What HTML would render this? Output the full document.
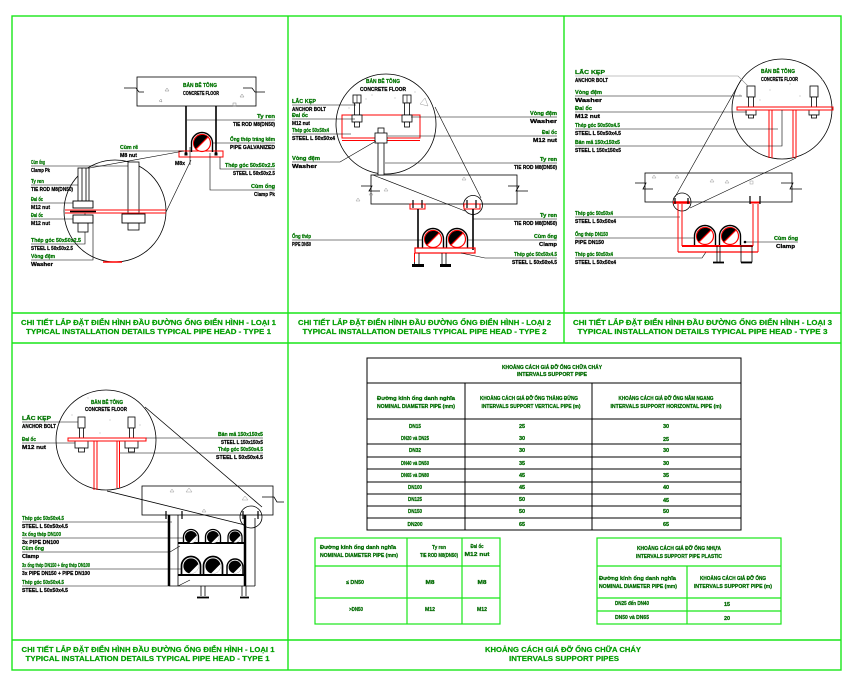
<!DOCTYPE html>
<html><head><meta charset="utf-8"><style>
html,body{margin:0;padding:0;background:#fff;}
svg{display:block}
text{font-family:"Liberation Sans","DejaVu Sans",sans-serif;font-weight:bold}
.g{fill:#007400;stroke:#007400;stroke-width:0.25px;font-size:5.5px}
.k{fill:#000;stroke:#000;stroke-width:0.25px;font-size:5.5px}
.t{fill:#009e00;stroke:#009e00;stroke-width:0.2px;font-size:7.5px}
.d{fill:#006a00;stroke:#006a00;stroke-width:0.25px;font-size:5.5px}
</style></head><body>
<svg width="852" height="677" viewBox="0 0 852 677" xmlns="http://www.w3.org/2000/svg">
<defs>
<g id="pp">
 <path d="M-10.5 9 V0 A10.5 10.5 0 0 1 10.5 0 V9" fill="none" stroke="#000" stroke-width="1.4"/>
 <circle r="8.5" fill="#fff" stroke="#f00" stroke-width="1.2"/>
 <path d="M-6 6 A8.5 8.5 0 0 1 6 -6 Z" fill="#000"/>
 <line x1="-6.5" y1="6.5" x2="6.5" y2="-6.5" stroke="#f00" stroke-width="1.2"/>
</g>
<g id="pk">
 <path d="M-10 9 V0 A10 10 0 0 1 10 0 V9" fill="none" stroke="#000" stroke-width="1.8"/>
 <circle r="8" fill="#000"/>
 <path d="M-2 7.7 A8 8 0 0 0 7.7 -2 Z" fill="#fff"/>
</g>
</defs>

<!-- FRAME -->
<g stroke="#19e619" stroke-width="1.4" fill="none">
<rect x="12" y="16" width="829" height="654"/>
<line x1="288" y1="16" x2="288" y2="670"/>
<line x1="564" y1="16" x2="564" y2="343"/>
<line x1="12" y1="313" x2="841" y2="313"/>
<line x1="12" y1="343" x2="841" y2="343"/>
<line x1="12" y1="640" x2="841" y2="640"/>
</g>

<!-- TITLES -->
<text class="t" x="148.5" y="325" text-anchor="middle" textLength="255" lengthAdjust="spacingAndGlyphs">CHI TIẾT LẮP ĐẶT ĐIỂN HÌNH ĐẦU ĐƯỜNG ỐNG ĐIỂN HÌNH - LOẠI 1</text>
<text class="t" x="148.5" y="334" text-anchor="middle" textLength="245" lengthAdjust="spacingAndGlyphs">TYPICAL INSTALLATION DETAILS TYPICAL PIPE HEAD - TYPE 1</text>
<text class="t" x="424.5" y="325" text-anchor="middle" textLength="253" lengthAdjust="spacingAndGlyphs">CHI TIẾT LẮP ĐẶT ĐIỂN HÌNH ĐẦU ĐƯỜNG ỐNG ĐIỂN HÌNH - LOẠI 2</text>
<text class="t" x="424.5" y="334" text-anchor="middle" textLength="244" lengthAdjust="spacingAndGlyphs">TYPICAL INSTALLATION DETAILS TYPICAL PIPE HEAD - TYPE 2</text>
<text class="t" x="702.5" y="325" text-anchor="middle" textLength="259" lengthAdjust="spacingAndGlyphs">CHI TIẾT LẮP ĐẶT ĐIỂN HÌNH ĐẦU ĐƯỜNG ỐNG ĐIỂN HÌNH - LOẠI 3</text>
<text class="t" x="702.5" y="334" text-anchor="middle" textLength="250" lengthAdjust="spacingAndGlyphs">TYPICAL INSTALLATION DETAILS TYPICAL PIPE HEAD - TYPE 3</text>
<text class="t" x="148" y="652" text-anchor="middle" textLength="253" lengthAdjust="spacingAndGlyphs">CHI TIẾT LẮP ĐẶT ĐIỂN HÌNH ĐẦU ĐƯỜNG ỐNG ĐIỂN HÌNH - LOẠI 1</text>
<text class="t" x="147.5" y="661" text-anchor="middle" textLength="244" lengthAdjust="spacingAndGlyphs">TYPICAL INSTALLATION DETAILS TYPICAL PIPE HEAD - TYPE 1</text>
<text class="t" x="563" y="652" text-anchor="middle" textLength="156" lengthAdjust="spacingAndGlyphs">KHOẢNG CÁCH GIÁ ĐỠ ỐNG CHỮA CHÁY</text>
<text class="t" x="564" y="661" text-anchor="middle" textLength="110" lengthAdjust="spacingAndGlyphs">INTERVALS SUPPORT PIPES</text>

<!-- ================= PANEL 1 ================= -->
<g fill="none" stroke="#000" stroke-width="0.8">
 <rect x="137" y="77" width="119" height="29"/>
 <path d="M124 88 H136 L139 92 H144"/>
 <path d="M243 88 H252 L255 92 H265"/>
 <circle cx="115" cy="211" r="51"/>
</g>
<g fill="none" stroke="#888" stroke-width="0.5">
 <path d="M165 91 l2 -3 l2 3 z"/><path d="M159 101 l2 -2 l1 3 z"/><path d="M240 97 l2 -3 l2 3 z"/><rect x="233" y="103" width="3" height="3"/>
</g>
<text class="g" x="183" y="87" textLength="34" lengthAdjust="spacingAndGlyphs">BẢN BÊ TÔNG</text>
<text class="k" x="183" y="95" textLength="36" lengthAdjust="spacingAndGlyphs">CONCRETE FLOOR</text>
<g stroke="#000" stroke-width="1.6">
 <line x1="186" y1="106" x2="186" y2="155"/>
 <line x1="216" y1="106" x2="216" y2="155"/>
</g>
<rect x="179" y="151" width="44" height="6" fill="none" stroke="#f00" stroke-width="1"/>
<use href="#pp" x="202" y="143"/>
<rect x="184.5" y="152.5" width="3" height="3" fill="#000"/>
<rect x="214.5" y="152.5" width="3" height="3" fill="#000"/>
<text class="k" x="175" y="165" textLength="10" lengthAdjust="spacingAndGlyphs">M8x</text>
<g fill="none" stroke="#000" stroke-width="0.6">
 <path d="M31 166 H128"/><path d="M31 185 H82"/><path d="M31 203 H73"/><path d="M31 219 H73"/>
 <path d="M31 244 H85 V213"/><path d="M31 260 H93 V223"/>
 <path d="M187 120 H275"/><path d="M212 143 H275"/><path d="M220 157 V169 H275"/><path d="M210 153 V190 H275"/>
 <path d="M120 151 H183"/>
 <path d="M184 151 L84 169"/><path d="M191 160 L166 212"/>
 <path d="M190 147 V165"/>
</g>
<!-- detail inside circle 1 -->
<g fill="#fff" stroke="#000" stroke-width="0.8">
 <rect x="78" y="168" width="11" height="33"/>
 <line x1="82" y1="168" x2="82" y2="201"/><line x1="86" y1="168" x2="86" y2="201"/>
 <rect x="78" y="223" width="10" height="9"/>
 <rect x="128" y="162" width="11" height="52"/>
 <rect x="128" y="223" width="11" height="7"/>
</g>
<g stroke="#f00" stroke-width="0.9"><line x1="65" y1="210" x2="166" y2="210"/><line x1="65" y1="213" x2="166" y2="213"/></g>
<g fill="#fff" stroke="#000" stroke-width="0.9">
 <rect x="73" y="201" width="20" height="7"/>
 <rect x="73" y="215" width="20" height="8"/>
 <rect x="122" y="214" width="23" height="9"/>
</g>
<line x1="70" y1="211.5" x2="96" y2="211.5" stroke="#000" stroke-width="1.6"/>
<line x1="103" y1="262" x2="122" y2="262" stroke="#f00" stroke-width="1.5"/>
<!-- labels p1 -->
<text class="g" x="31" y="164" textLength="14" lengthAdjust="spacingAndGlyphs">Cùm ống</text>
<text class="k" x="31" y="172" textLength="19" lengthAdjust="spacingAndGlyphs">Clamp Pk</text>
<text class="g" x="31" y="183" textLength="13" lengthAdjust="spacingAndGlyphs">Ty ren</text>
<text class="k" x="31" y="191" textLength="42" lengthAdjust="spacingAndGlyphs">TIE ROD M8(DN50)</text>
<text class="g" x="31" y="201" textLength="12" lengthAdjust="spacingAndGlyphs">Đai ốc</text>
<text class="k" x="31" y="209" textLength="19" lengthAdjust="spacingAndGlyphs">M12 nut</text>
<text class="g" x="31" y="217" textLength="12" lengthAdjust="spacingAndGlyphs">Đai ốc</text>
<text class="k" x="31" y="225" textLength="19" lengthAdjust="spacingAndGlyphs">M12 nut</text>
<text class="g" x="31" y="242" textLength="50" lengthAdjust="spacingAndGlyphs">Thép góc 50x50x2.5</text>
<text class="k" x="31" y="250" textLength="42" lengthAdjust="spacingAndGlyphs">STEEL L 50x50x2.5</text>
<text class="g" x="31" y="258" textLength="24" lengthAdjust="spacingAndGlyphs">Vòng đệm</text>
<text class="k" x="31" y="266" textLength="22" lengthAdjust="spacingAndGlyphs">Washer</text>
<text class="g" x="275" y="118" text-anchor="end" textLength="18" lengthAdjust="spacingAndGlyphs">Ty ren</text>
<text class="k" x="275" y="126" text-anchor="end" textLength="42" lengthAdjust="spacingAndGlyphs">TIE ROD M8(DN50)</text>
<text class="g" x="275" y="141" text-anchor="end" textLength="45" lengthAdjust="spacingAndGlyphs">Ống thép tráng kẽm</text>
<text class="k" x="275" y="149" text-anchor="end" textLength="45" lengthAdjust="spacingAndGlyphs">PIPE GALVANIZED</text>
<text class="g" x="275" y="167" text-anchor="end" textLength="50" lengthAdjust="spacingAndGlyphs">Thép góc 50x50x2.5</text>
<text class="k" x="275" y="175" text-anchor="end" textLength="42" lengthAdjust="spacingAndGlyphs">STEEL L 50x50x2.5</text>
<text class="g" x="275" y="188" text-anchor="end" textLength="24" lengthAdjust="spacingAndGlyphs">Cùm ống</text>
<text class="k" x="275" y="196" text-anchor="end" textLength="21" lengthAdjust="spacingAndGlyphs">Clamp Pk</text>
<text class="g" x="120" y="149" textLength="18" lengthAdjust="spacingAndGlyphs">Cùm rẽ</text>
<text class="k" x="120" y="157" textLength="17" lengthAdjust="spacingAndGlyphs">M8 nut</text>

<!-- ================= PANEL 2 ================= -->
<g fill="none" stroke="#000" stroke-width="0.8">
 <circle cx="386" cy="124" r="50"/>
 <rect x="371" y="175" width="146" height="29"/>
 <path d="M361 186 H372 L369 191 H380"/>
 <path d="M508 186 H519 L516 191 H528"/>
 <circle cx="473" cy="205" r="9.5"/>
</g>
<g fill="none" stroke="#999" stroke-width="0.5">
 <path d="M420 104 l5 -6 l3 8 z"/><path d="M384 191 l2 -3 l2 3 z"/><path d="M369 195 l2 -3 l2 3 z"/><path d="M462 180 l2 -3 l2 3 z"/><path d="M356 201 l2 -3 l2 3 z"/>
</g>
<g fill="#bbb"><circle cx="366" cy="99" r=".6"/><circle cx="395" cy="98" r=".6"/><circle cx="349" cy="108" r=".6"/><circle cx="372" cy="95" r=".6"/><circle cx="415" cy="92" r=".6"/></g>
<text class="g" x="383" y="83" text-anchor="middle" textLength="34" lengthAdjust="spacingAndGlyphs">BẢN BÊ TÔNG</text>
<text class="k" x="383" y="91" text-anchor="middle" textLength="46" lengthAdjust="spacingAndGlyphs">CONCRETE FLOOR</text>
<rect x="342" y="115" width="78" height="23" fill="none" stroke="#f00" stroke-width="1"/>
<line x1="342" y1="140.5" x2="420" y2="140.5" stroke="#f00" stroke-width="1"/>
<g fill="#fff" stroke="#000" stroke-width="0.8">
 <rect x="353" y="95" width="8" height="8"/><rect x="354.5" y="103" width="5" height="12"/><rect x="352" y="115" width="10" height="7"/><rect x="354.5" y="122" width="5" height="5"/>
 <rect x="403" y="95" width="8" height="8"/><rect x="404.5" y="103" width="5" height="12"/><rect x="402" y="115" width="10" height="7"/><rect x="404.5" y="122" width="5" height="5"/>
 <rect x="378" y="128" width="6" height="47"/>
 <rect x="375" y="133" width="12" height="10"/>
</g>
<g stroke="#000" stroke-width="0.6"><line x1="357" y1="95" x2="357" y2="103"/><line x1="407" y1="95" x2="407" y2="103"/></g>
<rect x="410" y="204" width="15" height="5" fill="none" stroke="#f00" stroke-width="1"/>
<rect x="464" y="204" width="16" height="5" fill="none" stroke="#f00" stroke-width="1"/>
<g stroke="#000" stroke-width="1.2">
 <line x1="413" y1="200" x2="413" y2="208"/><line x1="422" y1="200" x2="422" y2="208"/>
 <line x1="467" y1="200" x2="467" y2="208"/><line x1="476" y1="200" x2="476" y2="208"/>
</g>
<g stroke="#000" stroke-width="1.6"><line x1="418" y1="209" x2="418" y2="248"/><line x1="473" y1="209" x2="473" y2="250"/></g>
<use href="#pp" x="433" y="239"/>
<use href="#pp" x="457" y="239"/>
<rect x="415" y="248" width="60" height="5" fill="none" stroke="#f00" stroke-width="1.2"/>
<g stroke="#000" stroke-width="0.8">
 <line x1="414.5" y1="253" x2="414.5" y2="265"/><line x1="419" y1="253" x2="419" y2="265"/>
 <line x1="442" y1="253" x2="442" y2="265"/><line x1="446" y1="253" x2="446" y2="265"/>
</g>
<line x1="414.5" y1="253" x2="414.5" y2="262" stroke="#f00" stroke-width="1"/>
<rect x="412" y="264" width="12" height="3" fill="#000"/>
<rect x="440" y="264" width="11" height="3" fill="#000"/>
<g fill="none" stroke="#000" stroke-width="0.6">
 <path d="M292 105 H356"/><path d="M292 119 H355"/><path d="M292 134 H351"/>
 <path d="M292 162 H340 L376 141"/><path d="M292 240 H423"/>
 <path d="M411 117 H557"/><path d="M388 136 H557"/><path d="M385 163 H557"/>
 <path d="M473 219 H557"/><path d="M467 240 H557"/><path d="M461 253 L485 258 H557"/>
 <path d="M373 175 L465 211"/><path d="M435 107 L481 198"/>
</g>
<text class="g" x="292" y="103" textLength="24" lengthAdjust="spacingAndGlyphs">LẮC KẸP</text>
<text class="k" x="292" y="111" textLength="34" lengthAdjust="spacingAndGlyphs">ANCHOR BOLT</text>
<text class="g" x="292" y="117" textLength="16" lengthAdjust="spacingAndGlyphs">Đai ốc</text>
<text class="k" x="292" y="125" textLength="18" lengthAdjust="spacingAndGlyphs">M12 nut</text>
<text class="g" x="292" y="132" textLength="37" lengthAdjust="spacingAndGlyphs">Thép góc 50x50x4</text>
<text class="k" x="292" y="140" textLength="43" lengthAdjust="spacingAndGlyphs">STEEL L 50x50x4</text>
<text class="g" x="292" y="160" textLength="28" lengthAdjust="spacingAndGlyphs">Vòng đệm</text>
<text class="k" x="292" y="168" textLength="25" lengthAdjust="spacingAndGlyphs">Washer</text>
<text class="g" x="292" y="238" textLength="19" lengthAdjust="spacingAndGlyphs">Ống thép</text>
<text class="k" x="292" y="246" textLength="19" lengthAdjust="spacingAndGlyphs">PIPE DN50</text>
<text class="g" x="557" y="115" text-anchor="end" textLength="27" lengthAdjust="spacingAndGlyphs">Vòng đệm</text>
<text class="k" x="557" y="123" text-anchor="end" textLength="27" lengthAdjust="spacingAndGlyphs">Washer</text>
<text class="g" x="557" y="134" text-anchor="end" textLength="15" lengthAdjust="spacingAndGlyphs">Đai ốc</text>
<text class="k" x="557" y="142" text-anchor="end" textLength="24" lengthAdjust="spacingAndGlyphs">M12 nut</text>
<text class="g" x="557" y="161" text-anchor="end" textLength="17" lengthAdjust="spacingAndGlyphs">Ty ren</text>
<text class="k" x="557" y="169" text-anchor="end" textLength="43" lengthAdjust="spacingAndGlyphs">TIE ROD M8(DN50)</text>
<text class="g" x="557" y="217" text-anchor="end" textLength="17" lengthAdjust="spacingAndGlyphs">Ty ren</text>
<text class="k" x="557" y="225" text-anchor="end" textLength="43" lengthAdjust="spacingAndGlyphs">TIE ROD M8(DN50)</text>
<text class="g" x="557" y="238" text-anchor="end" textLength="23" lengthAdjust="spacingAndGlyphs">Cùm ống</text>
<text class="k" x="557" y="246" text-anchor="end" textLength="18" lengthAdjust="spacingAndGlyphs">Clamp</text>
<text class="g" x="557" y="256" text-anchor="end" textLength="43" lengthAdjust="spacingAndGlyphs">Thép góc 50x50x4.5</text>
<text class="k" x="557" y="264" text-anchor="end" textLength="45" lengthAdjust="spacingAndGlyphs">STEEL L 50x50x4.5</text>

<!-- ================= PANEL 3 ================= -->
<g fill="none" stroke="#000" stroke-width="0.8">
 <circle cx="782" cy="109" r="50"/>
 <rect x="645" y="173" width="147" height="29"/>
 <path d="M635 183 H646 L643 189 H653"/>
 <path d="M781 183 H793 L790 189 H802"/>
 <circle cx="682" cy="202" r="9"/>
</g>
<g fill="none" stroke="#999" stroke-width="0.5">
 <path d="M652 178 l2 -3 l2 3 z"/><path d="M675 178 l2 -3 l2 3 z"/><path d="M710 182 l2 -3 l2 3 z"/><path d="M725 183 l2 -3 l2 3 z"/><rect x="750" y="181" width="3" height="3"/>
</g>
<g fill="#bbb"><circle cx="770" cy="90" r=".6"/><circle cx="790" cy="84" r=".6"/><circle cx="800" cy="96" r=".6"/><circle cx="760" cy="100" r=".6"/><circle cx="822" cy="80" r=".6"/><circle cx="740" cy="95" r=".6"/></g>
<text class="g" x="761" y="73" textLength="34" lengthAdjust="spacingAndGlyphs">BẢN BÊ TÔNG</text>
<text class="k" x="761" y="81" textLength="37" lengthAdjust="spacingAndGlyphs">CONCRETE FLOOR</text>
<g fill="#fff" stroke="#000" stroke-width="0.8">
 <rect x="747" y="86" width="8" height="11"/><rect x="748.5" y="97" width="5" height="10"/><rect x="746" y="110" width="10" height="5"/><rect x="748.5" y="115" width="5" height="3"/>
 <rect x="810" y="86" width="8" height="11"/><rect x="811.5" y="97" width="5" height="10"/><rect x="809" y="110" width="10" height="5"/><rect x="811.5" y="115" width="5" height="3"/>
</g>
<rect x="737" y="107" width="96" height="3" fill="none" stroke="#f00" stroke-width="1"/>
<g stroke="#f00" stroke-width="1">
 <line x1="769" y1="110" x2="769" y2="158"/><line x1="772" y1="110" x2="772" y2="158"/>
 <line x1="793" y1="110" x2="793" y2="158"/><line x1="796" y1="110" x2="796" y2="158"/>
</g>
<g fill="none" stroke="#000" stroke-width="0.6">
 <path d="M575 96 H742"/><path d="M575 112 H747"/><path d="M575 129 H778"/><path d="M575 146 H782 V110"/>
 <path d="M575 217 H680"/><path d="M575 238 H695"/><path d="M575 258 H702 L706 252"/>
 <path d="M745 242 H798"/>
 <path d="M741 80 L675 197"/><path d="M796 158 L690 208"/>
</g>
<path d="M575 76 H738 L748 86" fill="none" stroke="#888" stroke-width="0.6"/>
<circle cx="745" cy="242" r="1.3" fill="#000"/>
<g stroke="#f00">
 <line x1="673" y1="202.5" x2="690" y2="202.5" stroke-width="2.5"/>
 <line x1="678" y1="204" x2="678" y2="252" stroke-width="1"/>
 <line x1="682" y1="204" x2="682" y2="246" stroke-width="1"/>
 <line x1="750" y1="202.5" x2="760" y2="202.5" stroke-width="2"/>
 <line x1="753" y1="204" x2="753" y2="246" stroke-width="1"/>
 <line x1="758" y1="204" x2="758" y2="252" stroke-width="1"/>
 <line x1="682" y1="246" x2="753" y2="246" stroke-width="2"/>
 <line x1="678" y1="252" x2="758" y2="252" stroke-width="1.2"/>
</g>
<g stroke="#000" stroke-width="1.2">
 <line x1="750" y1="196" x2="750" y2="204"/><line x1="760" y1="196" x2="760" y2="204"/>
 <line x1="675" y1="198" x2="675" y2="204"/><line x1="688" y1="198" x2="688" y2="204"/>
</g>
<use href="#pp" x="705" y="236"/>
<use href="#pp" x="730" y="236"/>
<g stroke="#000" stroke-width="0.8" fill="none">
 <line x1="717" y1="246" x2="717" y2="262"/><line x1="720" y1="246" x2="720" y2="262"/>
 <rect x="741" y="246" width="11" height="16"/>
</g>
<g stroke="#000" stroke-width="1.8"><line x1="713" y1="262.5" x2="724" y2="262.5"/><line x1="741" y1="262.5" x2="752" y2="262.5"/></g>
<text class="g" x="575" y="74" textLength="30" lengthAdjust="spacingAndGlyphs">LẮC KẸP</text>
<text class="k" x="575" y="82" textLength="33" lengthAdjust="spacingAndGlyphs">ANCHOR BOLT</text>
<text class="g" x="575" y="94" textLength="27" lengthAdjust="spacingAndGlyphs">Vòng đệm</text>
<text class="k" x="575" y="102" textLength="27" lengthAdjust="spacingAndGlyphs">Washer</text>
<text class="g" x="575" y="110" textLength="17" lengthAdjust="spacingAndGlyphs">Đai ốc</text>
<text class="k" x="575" y="118" textLength="25" lengthAdjust="spacingAndGlyphs">M12 nut</text>
<text class="g" x="575" y="127" textLength="45" lengthAdjust="spacingAndGlyphs">Thép góc 50x50x4.5</text>
<text class="k" x="575" y="135" textLength="46" lengthAdjust="spacingAndGlyphs">STEEL L 50x50x4.5</text>
<text class="g" x="575" y="144" textLength="45" lengthAdjust="spacingAndGlyphs">Bản mã 150x150x5</text>
<text class="k" x="575" y="152" textLength="46" lengthAdjust="spacingAndGlyphs">STEEL L 150x150x5</text>
<text class="g" x="575" y="215" textLength="38" lengthAdjust="spacingAndGlyphs">Thép góc 50x50x4</text>
<text class="k" x="575" y="223" textLength="41" lengthAdjust="spacingAndGlyphs">STEEL L 50x50x4</text>
<text class="g" x="575" y="236" textLength="33" lengthAdjust="spacingAndGlyphs">Ống thép DN150</text>
<text class="k" x="575" y="244" textLength="29" lengthAdjust="spacingAndGlyphs">PIPE DN150</text>
<text class="g" x="575" y="256" textLength="38" lengthAdjust="spacingAndGlyphs">Thép góc 50x50x4</text>
<text class="k" x="575" y="264" textLength="41" lengthAdjust="spacingAndGlyphs">STEEL L 50x50x4</text>
<text class="g" x="774" y="240" textLength="24" lengthAdjust="spacingAndGlyphs">Cùm ống</text>
<text class="k" x="776" y="248" textLength="19" lengthAdjust="spacingAndGlyphs">Clamp</text>

<!-- ================= PANEL 4 ================= -->
<g fill="none" stroke="#000" stroke-width="0.8">
 <circle cx="106" cy="440" r="50"/>
 <rect x="142" y="486" width="131" height="29"/>
 <path d="M262 497 H274 L277 502 H284"/>
 <circle cx="251" cy="517" r="11"/>
 <path d="M107 491 L245 525"/>
 <path d="M145 407 L262 507"/>
</g>
<g fill="none" stroke="#999" stroke-width="0.5">
 <path d="M170 492 l2 -3 l2 3 z"/><path d="M186 492 l3 -4 l3 4 z"/><path d="M202 512 l2 -3 l2 3 z"/><path d="M242 500 l3 -4 l3 4 z"/>
</g>
<g fill="#bbb"><circle cx="88" cy="398" r=".6"/><circle cx="72" cy="415" r=".6"/><circle cx="110" cy="420" r=".6"/><circle cx="140" cy="425" r=".6"/><circle cx="100" cy="433" r=".6"/></g>
<text class="g" x="107" y="404" text-anchor="middle" textLength="32" lengthAdjust="spacingAndGlyphs">BẢN BÊ TÔNG</text>
<text class="k" x="106" y="411" text-anchor="middle" textLength="42" lengthAdjust="spacingAndGlyphs">CONCRETE FLOOR</text>
<g fill="#fff" stroke="#000" stroke-width="0.8">
 <rect x="78" y="417" width="7" height="11"/><rect x="79.5" y="428" width="4" height="10"/><rect x="75" y="441" width="13" height="7"/><rect x="78.5" y="448" width="6" height="4"/>
 <rect x="128" y="417" width="7" height="11"/><rect x="129.5" y="428" width="4" height="10"/><rect x="125" y="441" width="13" height="7"/><rect x="128.5" y="448" width="6" height="4"/>
</g>
<rect x="68" y="438" width="78" height="3" fill="none" stroke="#f00" stroke-width="1"/>
<g stroke="#f00" stroke-width="1">
 <line x1="94" y1="441" x2="94" y2="490"/><line x1="97" y1="441" x2="97" y2="490"/>
 <line x1="117" y1="441" x2="117" y2="488"/><line x1="119.5" y1="441" x2="119.5" y2="488"/>
</g>
<g fill="none" stroke="#000" stroke-width="0.6">
 <path d="M22 422 H78"/><path d="M22 443 H75"/>
 <path d="M146 438 H263"/><path d="M120 453 H263"/>
 <path d="M22 522 H172"/><path d="M22 538 H183"/><path d="M22 552 H170 L180 546"/><path d="M22 569 H181"/><path d="M22 586 H169"/><path d="M178 586 L190 580"/>
</g>
<g stroke="#000">
 <line x1="169" y1="515" x2="169" y2="586" stroke-width="2.5"/>
 <line x1="178" y1="515" x2="178" y2="586" stroke-width="0.8"/>
 <line x1="245" y1="515" x2="245" y2="586" stroke-width="2.5"/>
 <line x1="255" y1="518" x2="255" y2="586" stroke-width="0.8"/>
 <line x1="178" y1="543" x2="245" y2="543" stroke-width="2"/>
 <line x1="178" y1="575" x2="245" y2="575" stroke-width="2"/>
 <line x1="169" y1="586" x2="255" y2="586" stroke-width="0.8"/>
 <line x1="166" y1="511" x2="166" y2="519" stroke-width="1.2"/><line x1="182" y1="511" x2="182" y2="519" stroke-width="1.2"/>
 <line x1="243" y1="511" x2="243" y2="519" stroke-width="1.2"/><line x1="258" y1="511" x2="258" y2="519" stroke-width="1.2"/>
 <line x1="201" y1="586" x2="201" y2="596" stroke-width="0.8"/><line x1="205" y1="586" x2="205" y2="596" stroke-width="0.8"/>
 <line x1="242" y1="586" x2="242" y2="596" stroke-width="0.8"/><line x1="246" y1="586" x2="246" y2="596" stroke-width="0.8"/>
 <line x1="197" y1="597.5" x2="209" y2="597.5" stroke-width="1.8"/>
 <line x1="240" y1="597.5" x2="249" y2="597.5" stroke-width="1.8"/>
</g>
<use href="#pk" transform="translate(191,537) scale(0.75)"/>
<use href="#pk" transform="translate(213,537) scale(0.75)"/>
<use href="#pk" transform="translate(235,537) scale(0.7)"/>
<use href="#pk" transform="translate(191,566) scale(0.95)"/>
<use href="#pk" transform="translate(213,566) scale(0.95)"/>
<use href="#pk" transform="translate(235,567) scale(0.8)"/>
<text class="g" x="22" y="420" textLength="29" lengthAdjust="spacingAndGlyphs">LẮC KẸP</text>
<text class="k" x="22" y="428" textLength="34" lengthAdjust="spacingAndGlyphs">ANCHOR BOLT</text>
<text class="g" x="22" y="441" textLength="14" lengthAdjust="spacingAndGlyphs">Đai ốc</text>
<text class="k" x="22" y="449" textLength="24" lengthAdjust="spacingAndGlyphs">M12 nut</text>
<text class="g" x="263" y="436" text-anchor="end" textLength="45" lengthAdjust="spacingAndGlyphs">Bản mã 150x150x5</text>
<text class="k" x="263" y="444" text-anchor="end" textLength="42" lengthAdjust="spacingAndGlyphs">STEEL L 150x150x5</text>
<text class="g" x="263" y="451" text-anchor="end" textLength="45" lengthAdjust="spacingAndGlyphs">Thép góc 50x50x4.5</text>
<text class="k" x="263" y="459" text-anchor="end" textLength="47" lengthAdjust="spacingAndGlyphs">STEEL L 50x50x4.5</text>
<text class="g" x="22" y="520" textLength="42" lengthAdjust="spacingAndGlyphs">Thép góc 50x50x4.5</text>
<text class="k" x="22" y="528" textLength="46" lengthAdjust="spacingAndGlyphs">STEEL L 50x50x4.5</text>
<text class="g" x="22" y="536" textLength="39" lengthAdjust="spacingAndGlyphs">3x ống thép DN100</text>
<text class="k" x="22" y="544" textLength="37" lengthAdjust="spacingAndGlyphs">3x PIPE DN100</text>
<text class="g" x="22" y="550" textLength="22" lengthAdjust="spacingAndGlyphs">Cùm ống</text>
<text class="k" x="22" y="558" textLength="17" lengthAdjust="spacingAndGlyphs">Clamp</text>
<text class="g" x="22" y="567" textLength="68" lengthAdjust="spacingAndGlyphs">3x ống thép DN150 + ống thép DN100</text>
<text class="k" x="22" y="575" textLength="68" lengthAdjust="spacingAndGlyphs">3x PIPE DN150 + PIPE DN100</text>
<text class="g" x="22" y="584" textLength="42" lengthAdjust="spacingAndGlyphs">Thép góc 50x50x4.5</text>
<text class="k" x="22" y="592" textLength="46" lengthAdjust="spacingAndGlyphs">STEEL L 50x50x4.5</text>

<!-- ================= TABLE 1 ================= -->
<g fill="none" stroke="#000" stroke-width="1">
 <rect x="367" y="358" width="374" height="172"/>
 <line x1="367" y1="383" x2="741" y2="383"/>
 <line x1="367" y1="419" x2="741" y2="419"/>
 <line x1="367" y1="444" x2="741" y2="444"/>
 <line x1="367" y1="457" x2="741" y2="457"/>
 <line x1="367" y1="469" x2="741" y2="469"/>
 <line x1="367" y1="482" x2="741" y2="482"/>
 <line x1="367" y1="494" x2="741" y2="494"/>
 <line x1="367" y1="506" x2="741" y2="506"/>
 <line x1="367" y1="518" x2="741" y2="518"/>
 <line x1="465" y1="383" x2="465" y2="530"/>
 <line x1="592" y1="383" x2="592" y2="530"/>
</g>
<text class="d" x="552" y="369" text-anchor="middle" textLength="100" lengthAdjust="spacingAndGlyphs">KHOẢNG CÁCH GIÁ ĐỠ ỐNG CHỮA CHÁY</text>
<text class="d" x="552" y="376" text-anchor="middle" textLength="70" lengthAdjust="spacingAndGlyphs">INTERVALS SUPPORT PIPE</text>
<text class="d" x="377" y="400" textLength="78" lengthAdjust="spacingAndGlyphs">Đường kính ống danh nghĩa</text>
<text class="d" x="377" y="408" textLength="78" lengthAdjust="spacingAndGlyphs">NOMINAL DIAMETER PIPE (mm)</text>
<text class="d" x="529" y="400" text-anchor="middle" textLength="98" lengthAdjust="spacingAndGlyphs">KHOẢNG CÁCH GIÁ ĐỠ ỐNG THẲNG ĐỨNG</text>
<text class="d" x="531" y="408" text-anchor="middle" textLength="99" lengthAdjust="spacingAndGlyphs">INTERVALS SUPPORT VERTICAL PIPE (m)</text>
<text class="d" x="666" y="400" text-anchor="middle" textLength="95" lengthAdjust="spacingAndGlyphs">KHOẢNG CÁCH GIÁ ĐỠ ỐNG NẰM NGANG</text>
<text class="d" x="666" y="408" text-anchor="middle" textLength="111" lengthAdjust="spacingAndGlyphs">INTERVALS SUPPORT HORIZONTAL PIPE (m)</text>
<g text-anchor="middle">
 <text class="d" x="415" y="428" textLength="12" lengthAdjust="spacingAndGlyphs">DN15</text>
 <text class="d" x="415" y="440" textLength="28" lengthAdjust="spacingAndGlyphs">DN20 và DN25</text>
 <text class="d" x="415" y="452" textLength="12" lengthAdjust="spacingAndGlyphs">DN32</text>
 <text class="d" x="415" y="465" textLength="28" lengthAdjust="spacingAndGlyphs">DN40 và DN50</text>
 <text class="d" x="415" y="477" textLength="28" lengthAdjust="spacingAndGlyphs">DN65 và DN80</text>
 <text class="d" x="415" y="489" textLength="14" lengthAdjust="spacingAndGlyphs">DN100</text>
 <text class="d" x="415" y="501" textLength="14" lengthAdjust="spacingAndGlyphs">DN125</text>
 <text class="d" x="415" y="513" textLength="14" lengthAdjust="spacingAndGlyphs">DN150</text>
 <text class="d" x="415" y="526" textLength="15" lengthAdjust="spacingAndGlyphs">DN200</text>
 <text class="d" x="522" y="428">25</text><text class="d" x="522" y="440">30</text><text class="d" x="522" y="452">30</text>
 <text class="d" x="522" y="465">35</text><text class="d" x="522" y="477">45</text><text class="d" x="522" y="489">45</text>
 <text class="d" x="522" y="501">50</text><text class="d" x="522" y="513">50</text><text class="d" x="522" y="526">65</text>
 <text class="d" x="666" y="428">30</text><text class="d" x="666" y="441">25</text><text class="d" x="666" y="452">30</text>
 <text class="d" x="666" y="465">30</text><text class="d" x="666" y="477">35</text><text class="d" x="666" y="489">40</text>
 <text class="d" x="666" y="502">45</text><text class="d" x="666" y="513">50</text><text class="d" x="666" y="526">65</text>
</g>

<!-- ================= TABLE 2 ================= -->
<g fill="none" stroke="#19e619" stroke-width="1.2">
 <rect x="315" y="538" width="185" height="86"/>
 <line x1="315" y1="566" x2="500" y2="566"/>
 <line x1="315" y1="598" x2="500" y2="598"/>
 <line x1="407" y1="538" x2="407" y2="624"/>
 <line x1="462" y1="538" x2="462" y2="624"/>
</g>
<text class="d" x="320" y="549" textLength="76" lengthAdjust="spacingAndGlyphs">Đường kính ống danh nghĩa</text>
<text class="d" x="320" y="557" textLength="78" lengthAdjust="spacingAndGlyphs">NOMINAL DIAMETER PIPE (mm)</text>
<text class="d" x="439" y="549" text-anchor="middle" textLength="14" lengthAdjust="spacingAndGlyphs">Ty ren</text>
<text class="d" x="439" y="557" text-anchor="middle" textLength="38" lengthAdjust="spacingAndGlyphs">TIE ROD M8(DN50)</text>
<text class="d" x="477" y="548" text-anchor="middle" textLength="13" lengthAdjust="spacingAndGlyphs">Đai ốc</text>
<text class="d" x="477" y="556" text-anchor="middle" textLength="25" lengthAdjust="spacingAndGlyphs">M12 nut</text>
<text class="d" x="355" y="584" text-anchor="middle" textLength="18" lengthAdjust="spacingAndGlyphs">≤ DN50</text>
<text class="d" x="430" y="584" text-anchor="middle" textLength="9" lengthAdjust="spacingAndGlyphs">M8</text>
<text class="d" x="482" y="584" text-anchor="middle" textLength="9" lengthAdjust="spacingAndGlyphs">M8</text>
<text class="d" x="356" y="611" text-anchor="middle" textLength="14" lengthAdjust="spacingAndGlyphs">&gt;DN50</text>
<text class="d" x="430" y="611" text-anchor="middle" textLength="10" lengthAdjust="spacingAndGlyphs">M12</text>
<text class="d" x="482" y="611" text-anchor="middle" textLength="10" lengthAdjust="spacingAndGlyphs">M12</text>

<!-- ================= TABLE 3 ================= -->
<g fill="none" stroke="#19e619" stroke-width="1.2">
 <rect x="597" y="538" width="184" height="86"/>
 <line x1="597" y1="566" x2="781" y2="566"/>
 <line x1="597" y1="598" x2="781" y2="598"/>
 <line x1="597" y1="611" x2="781" y2="611"/>
 <line x1="687" y1="566" x2="687" y2="624"/>
</g>
<text class="d" x="679" y="550" text-anchor="middle" textLength="84" lengthAdjust="spacingAndGlyphs">KHOẢNG CÁCH GIÁ ĐỠ ỐNG NHỰA</text>
<text class="d" x="679" y="558" text-anchor="middle" textLength="86" lengthAdjust="spacingAndGlyphs">INTERVALS SUPPORT PIPE PLASTIC</text>
<text class="d" x="599" y="580" textLength="77" lengthAdjust="spacingAndGlyphs">Đường kính ống danh nghĩa</text>
<text class="d" x="599" y="588" textLength="78" lengthAdjust="spacingAndGlyphs">NOMINAL DIAMETER PIPE (mm)</text>
<text class="d" x="733" y="580" text-anchor="middle" textLength="66" lengthAdjust="spacingAndGlyphs">KHOẢNG CÁCH GIÁ ĐỠ ỐNG</text>
<text class="d" x="733" y="588" text-anchor="middle" textLength="78" lengthAdjust="spacingAndGlyphs">INTERVALS SUPPORT PIPE (m)</text>
<text class="d" x="632" y="605" text-anchor="middle" textLength="34" lengthAdjust="spacingAndGlyphs">DN25 đến DN40</text>
<text class="d" x="727" y="606" text-anchor="middle">15</text>
<text class="d" x="632" y="619" text-anchor="middle" textLength="34" lengthAdjust="spacingAndGlyphs">DN50 và DN65</text>
<text class="d" x="727" y="620" text-anchor="middle">20</text>
</svg>
</body></html>
